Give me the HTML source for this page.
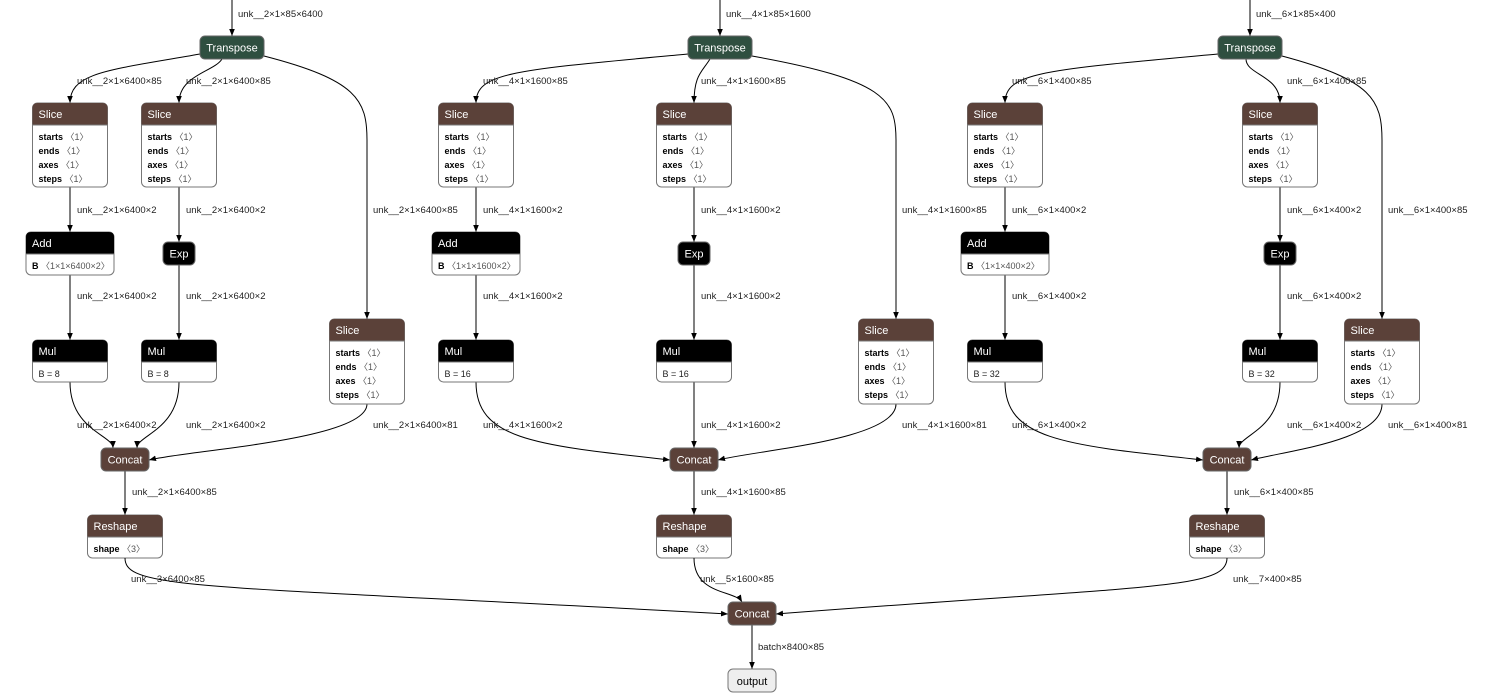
<!DOCTYPE html>
<html><head><meta charset="utf-8"><style>
html,body{margin:0;padding:0;background:#fff;width:1505px;height:698px;overflow:hidden}
svg{display:block}
text{font-family:"Liberation Sans",sans-serif}
.lbl{font-size:9.5px;fill:#222}
.ttl{font-size:11px;fill:#fff}
.an{font-size:9px;fill:#000;font-weight:bold}
.av{font-size:9px;fill:#555}
.e{fill:none;stroke:#000;stroke-width:1}
</style></head><body>
<svg id="g" width="1505" height="698" xmlns="http://www.w3.org/2000/svg"></svg>
<script>
var s='<defs><marker id="ar" viewBox="0 0 10 10" refX="10" refY="5" markerWidth="7" markerHeight="7" orient="auto"><path d="M0,1 L10,5 L0,9 z" fill="#000"/></marker></defs>';
function E(d){s+='<path class="e" d="'+d+'" marker-end="url(#ar)"/>';}
function L(x,y,t){s+='<text class="lbl" x="'+x+'" y="'+y+'">'+t+'</text>';}
function hdr(x,y,w,h,col,t){s+='<rect x="'+x+'" y="'+y+'" width="'+w+'" height="'+h+'" rx="5" fill="'+col+'" stroke="#666" stroke-width="1"/><text class="ttl" x="'+(x+w/2)+'" y="'+(y+h/2+4)+'" text-anchor="middle">'+t+'</text>';}
function box(cx,y,w,col,t,attrs,h){var x=cx-w/2;var hh=22;
 s+='<rect x="'+x+'" y="'+y+'" width="'+w+'" height="'+h+'" rx="5" fill="#fff" stroke="#777" stroke-width="1"/>';
 s+='<path d="M'+x+','+(y+hh)+' V'+(y+5)+' Q'+x+','+y+' '+(x+5)+','+y+' H'+(x+w-5)+' Q'+(x+w)+','+y+' '+(x+w)+','+(y+5)+' V'+(y+hh)+' Z" fill="'+col+'"/>';
 s+='<line x1="'+x+'" y1="'+(y+hh)+'" x2="'+(x+w)+'" y2="'+(y+hh)+'" stroke="#777"/>';
 s+='<text class="ttl" x="'+(x+6)+'" y="'+(y+15)+'">'+t+'</text>';
 for(var i=0;i<attrs.length;i++){var a=attrs[i];var yy=y+hh+15+i*14;
  if(a[0]) s+='<text x="'+(x+6)+'" y="'+yy+'"><tspan class="an">'+a[0]+'</tspan><tspan class="av"> '+a[1]+'</tspan></text>';
  else s+='<text class="av" x="'+(x+6)+'" y="'+yy+'" style="fill:#222">'+a[1]+'</text>';}
}
var BR='#5b4139',GR='#2f4f40',BK='#000';
var sl=[['starts','〈1〉'],['ends','〈1〉'],['axes','〈1〉'],['steps','〈1〉']];
var cols=[
 {T:232,A:70,B:179,C:367,D:125,p:'unk__2×1×',n:'6400',i:'unk__2×1×85×6400',m:8,r:'unk__3×6400×85',ma:'tl',mb:'tr'},
 {T:720,A:476,B:694,C:896,D:694,p:'unk__4×1×',n:'1600',i:'unk__4×1×85×1600',m:16,r:'unk__5×1600×85',ma:'l',mb:'t'},
 {T:1250,A:1005,B:1280,C:1382,D:1227,p:'unk__6×1×',n:'400',i:'unk__6×1×85×400',m:32,r:'unk__7×400×85',ma:'l',mb:'tr'}];
cols.forEach(function(c,k){
 var T=c.T,A=c.A,B=c.B,C=c.C,D=c.D;
 E('M'+T+',0 V36'); L(T+6,17,c.i);
 E('M'+(T-32)+',54 C'+(A+40)+',70 '+A+',72 '+A+',103');
 if(B<T) E('M'+(T-10)+',59 C'+(T-18)+',72 '+B+',75 '+B+',103');
 else E('M'+(T-4)+',59 C'+(T-4)+',75 '+B+',75 '+B+',103');
 E('M'+(T+32)+',56 C'+(C-10)+',80 '+C+',100 '+C+',140 L'+C+',319');
 L(A+7,84,c.p+c.n+'×85'); L(B+7,84,c.p+c.n+'×85');
 E('M'+A+',187 V232'); E('M'+B+',187 V242');
 L(A+7,213,c.p+c.n+'×2'); L(B+7,213,c.p+c.n+'×2'); L(C+6,213,c.p+c.n+'×85');
 E('M'+A+',275 V340'); E('M'+B+',265 V340');
 L(A+7,299,c.p+c.n+'×2'); L(B+7,299,c.p+c.n+'×2');
 var cy=448,cl=D-24,cr=D+24;
 function tgt(m){ if(m=='tl')return [D-12,cy]; if(m=='tr')return [D+12,cy]; if(m=='l')return [cl,460]; return [D,cy];}
 var ta=tgt(c.ma),tb=tgt(c.mb);
 if(c.ma=='l')E('M'+A+',382 C'+A+',440 '+(A+60)+',445 '+ta[0]+','+ta[1]); else E('M'+A+',382 C'+A+',430 '+ta[0]+',435 '+ta[0]+','+ta[1]);
 if(c.mb=='t')E('M'+B+',382 V448'); else E('M'+B+',382 C'+B+',430 '+tb[0]+',435 '+tb[0]+','+tb[1]);
 E('M'+C+',404 C'+C+',440 '+(cr+40)+',450 '+cr+',460');
 L(A+7,428,c.p+c.n+'×2'); L(B+7,428,c.p+c.n+'×2'); L(C+6,428,c.p+c.n+'×81');
 E('M'+D+',471 V515'); L(D+7,495,c.p+c.n+'×85');
 L(D+6,582,c.r);
 hdr(T-32,36,64,23,GR,'Transpose');
 box(A,103,75,BR,'Slice',sl,84); box(B,103,75,BR,'Slice',sl,84);
 box(A,232,88,BK,'Add',[['B','〈1×1×'+c.n+'×2〉']],43);
 hdr(B-16,242,32,23,BK,'Exp');
 box(A,340,75,BK,'Mul',[[null,'B = '+c.m]],42); box(B,340,75,BK,'Mul',[[null,'B = '+c.m]],42);
 box(C,319,75,BR,'Slice',sl,85);
 hdr(D-24,448,48,23,BR,'Concat');
 box(D,515,75,BR,'Reshape',[['shape','〈3〉']],43);
});
E('M125,558 C125,590 200,585 728,614');
E('M694,558 C694,595 735,590 742,602');
E('M1227,558 C1227,590 1150,585 776,614');
E('M752,625 V669'); L(758,650,'batch×8400×85');
hdr(728,602,48,23,BR,'Concat');
s+='<rect x="728" y="669" width="48" height="23" rx="5" fill="#eee" stroke="#777"/><text x="752" y="685" text-anchor="middle" style="font-size:11px;fill:#000">output</text>';
document.getElementById('g').innerHTML=s;
</script>
</body></html>
